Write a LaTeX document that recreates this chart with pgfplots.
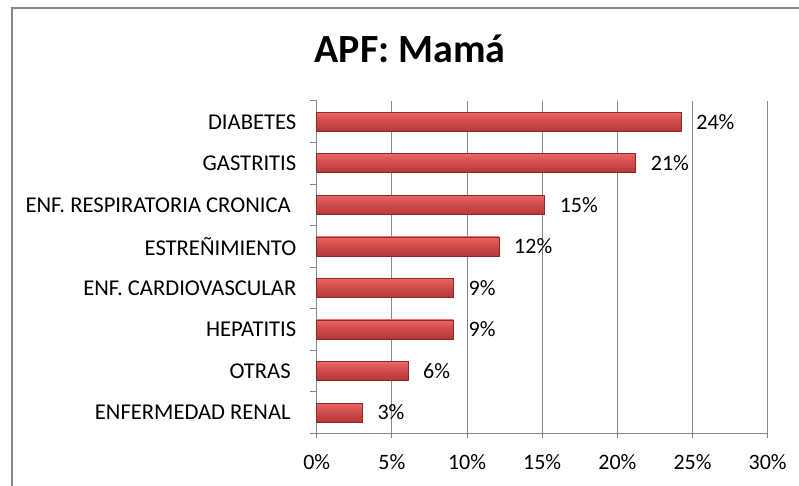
\documentclass[border=0pt]{standalone}
\usepackage{fontspec}
\setmainfont{Carlito}
\usepackage{pgfplots}
\pgfplotsset{compat=1.18}
\definecolor{gridgray}{RGB}{134,134,134}
\definecolor{baredge}{RGB}{140,42,40}
\pgfdeclareverticalshading{barshade}{100bp}{rgb(0bp)=(0.52,0.14,0.13); rgb(22bp)=(0.68,0.21,0.20); rgb(48bp)=(0.80,0.29,0.28); rgb(70bp)=(0.90,0.37,0.36); rgb(83bp)=(0.96,0.50,0.49); rgb(92bp)=(0.90,0.40,0.39); rgb(100bp)=(0.86,0.56,0.55)}
\pgfplotsset{barstyle/.style={xbar, bar width=9.5pt, bar shift=0pt, draw=baredge, line width=0.3pt, shade, shading=barshade}}
\begin{document}
\begin{tikzpicture}[x=1pt,y=1pt]
\useasboundingbox (0,0) rectangle (399.5,243);
\draw[gridgray, line width=1pt] (5.85,-5) -- (5.85,238.85) -- (410,238.85);
\node[font=\bfseries\fontsize{20}{24}\selectfont, anchor=base] at (205,211.5) {APF: Mamá};
\begin{axis}[
  at={(158.35pt,26.35pt)}, anchor=south west, scale only axis,
  width=225.5pt, height=166.15pt,
  xmin=0, xmax=30, ymin=-0.5, ymax=7.5,
  /pgf/number format/assume math mode=true,
  axis lines=left,
  axis line style={-, gridgray, line width=0.5pt},
  xtick={0,5,...,30},
  xticklabel={\pgfmathprintnumber{\tick}\%},
  ytick={0,...,7},
  yticklabels={{ENFERMEDAD RENAL\kern2.8pt},{OTRAS\kern2.8pt},HEPATITIS,ENF. CARDIOVASCULAR,ESTREÑIMIENTO,{ENF. RESPIRATORIA CRONICA\kern2.8pt},GASTRITIS,DIABETES},
  minor ytick={-0.5,0.5,...,7.5},
  tick align=outside,
  major tick length=2.5pt,
  minor tick length=3.4pt,
  major y tick style={draw=none},
  minor y tick style={gridgray, line width=0.5pt},
  major x tick style={gridgray, line width=0.5pt},
  xmajorgrids,
  major grid style={gridgray, line width=0.5pt},
  xticklabel style={font=\fontsize{11}{13}\selectfont, anchor=base, inner sep=0pt, yshift=-15.5pt},
  yticklabel style={font=\fontsize{11.3}{13}\selectfont, anchor=east, inner sep=0pt, xshift=-7.5pt},
  nodes near coords={\pgfmathprintnumber[fixed,precision=0]{\pgfplotspointmeta}\%},
  point meta=x,
  nodes near coords style={font=\fontsize{11}{13}\selectfont, anchor=west, inner sep=0pt, xshift=7.5pt, black},
  clip=false,
]
\addplot[barstyle] coordinates {(3.03,0)};
\addplot[barstyle] coordinates {(6.06,1)};
\addplot[barstyle] coordinates {(9.09,2)};
\addplot[barstyle] coordinates {(9.09,3)};
\addplot[barstyle] coordinates {(12.12,4)};
\addplot[barstyle] coordinates {(15.15,5)};
\addplot[barstyle] coordinates {(21.21,6)};
\addplot[barstyle] coordinates {(24.24,7)};
\end{axis}
\end{tikzpicture}
\end{document}
